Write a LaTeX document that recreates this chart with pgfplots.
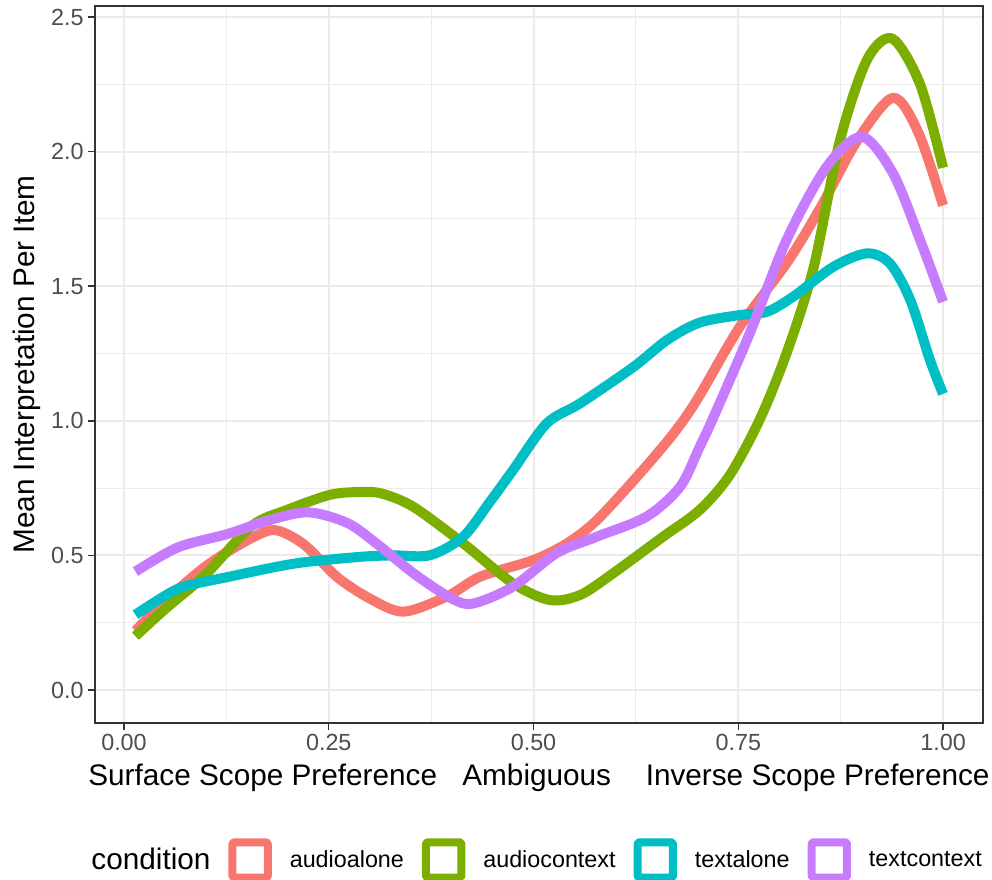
\documentclass[border=0pt]{standalone}
\usepackage{pgfplots}
\pgfplotsset{compat=1.18}
\usepackage{fontspec}
\setmainfont{Liberation Sans}
\definecolor{cRed}{HTML}{F8766D}
\definecolor{cGreen}{HTML}{7CAE00}
\definecolor{cCyan}{HTML}{00BFC4}
\definecolor{cPurple}{HTML}{C77CFF}
\definecolor{gridc}{HTML}{EBEBEB}
\definecolor{grey30}{HTML}{4D4D4D}
\definecolor{grey20}{HTML}{333333}
\begin{document}
\begin{tikzpicture}
\useasboundingbox (-71.25pt,-117.75pt) rectangle (672.75pt,542.25pt);
\begin{axis}[
  scale only axis, width=666pt, height=537.75pt,
  xmin=-0.0354, xmax=1.0488, ymin=-0.1226, ymax=2.541,
  xtick={0,0.25,0.5,0.75,1},
  xticklabels={0.00,0.25,0.50,0.75,1.00},
  ytick={0,0.5,1,1.5,2,2.5},
  yticklabels={0.0,0.5,1.0,1.5,2.0,2.5},
  minor xtick={0.125,0.375,0.625,0.875},
  minor ytick={0.25,0.75,1.25,1.75,2.25},
  grid=both,
  major grid style={gridc, line width=1.5pt},
  minor grid style={gridc, line width=0.8pt},
  minor tick length=0pt,
  major tick length=5pt,
  tick align=outside,
  tick pos=left,
  tick style={grey20, line width=1.1pt},
  axis line style={grey20, line width=1.1pt},
  tick label style={font=\fontsize{17.5}{20}\selectfont, text=grey30},
  xlabel={Surface Scope Preference\hspace{19pt}Ambiguous\hspace{26pt}Inverse Scope Preference},
  ylabel={Mean Interpretation Per Item},
  label style={font=\fontsize{22.3}{26}\selectfont},
  xlabel style={at={(axis description cs:0.5,0)}, anchor=base, yshift=-47.25pt},
  ylabel style={at={(axis description cs:0,0.5)}, anchor=base, yshift=45pt},
  every axis plot/.append style={line width=7.5pt, smooth, tension=0.5, line cap=butt, line join=round},
  legend columns=5,
  legend style={at={(axis description cs:1.0035,-0.191)}, anchor=east, draw=none, fill=none,
    font=\fontsize{17.5}{20}\selectfont, column sep=13.5pt, nodes={inner sep=0pt}},
  legend image code/.code={\draw[line width=6pt, rounded corners=1.5pt, line cap=butt] (3pt,-13.25pt) rectangle (29.5pt,13.25pt);},
]
\addlegendimage{empty legend}
\addlegendentry{\fontsize{22.3}{26}\selectfont condition}

\addplot[cRed] coordinates {
(0.014,0.22) (0.05,0.33) (0.10,0.46) (0.15,0.555) (0.184,0.594) (0.22,0.54) (0.26,0.42)
(0.30,0.34) (0.341,0.291) (0.394,0.347) (0.435,0.421) (0.50,0.483) (0.541,0.545)
(0.577,0.63) (0.63,0.805) (0.671,0.953) (0.70,1.08) (0.752,1.35) (0.81,1.59)
(0.85,1.79) (0.895,2.04) (0.939,2.20) (0.97,2.07) (1.00,1.80)};
\addlegendentry{audioalone}

\addplot[cGreen] coordinates {
(0.014,0.20) (0.05,0.30) (0.10,0.43) (0.156,0.61) (0.20,0.67) (0.25,0.724) (0.282,0.735)
(0.313,0.731) (0.353,0.681) (0.414,0.545) (0.475,0.396) (0.52,0.334) (0.557,0.353)
(0.597,0.433) (0.658,0.569) (0.703,0.669) (0.74,0.80) (0.777,1.01) (0.81,1.26)
(0.842,1.57) (0.874,2.04) (0.907,2.34) (0.938,2.42) (0.972,2.25) (1.00,1.94)};
\addlegendentry{audiocontext}

\addplot[cCyan] coordinates {
(0.014,0.28) (0.05,0.35) (0.074,0.385) (0.127,0.42) (0.209,0.47) (0.29,0.495)
(0.33,0.50) (0.374,0.501) (0.414,0.569) (0.447,0.70) (0.475,0.817) (0.516,0.99)
(0.557,1.065) (0.622,1.20) (0.663,1.30) (0.703,1.365) (0.752,1.393) (0.785,1.405)
(0.817,1.461) (0.866,1.572) (0.907,1.622) (0.935,1.585) (0.96,1.449) (0.984,1.226) (1.00,1.10)};
\addlegendentry{textalone}

\addplot[cPurple] coordinates {
(0.014,0.44) (0.066,0.53) (0.127,0.58) (0.176,0.63) (0.225,0.66) (0.273,0.62)
(0.31,0.54) (0.355,0.43) (0.40,0.34) (0.426,0.321) (0.475,0.384) (0.528,0.508)
(0.577,0.569) (0.638,0.644) (0.679,0.755) (0.703,0.904) (0.72,1.015) (0.764,1.325)
(0.809,1.672) (0.858,1.944) (0.901,2.055) (0.939,1.919) (0.972,1.672) (1.00,1.442)};
\addlegendentry{textcontext}
\end{axis}
\end{tikzpicture}
\end{document}
